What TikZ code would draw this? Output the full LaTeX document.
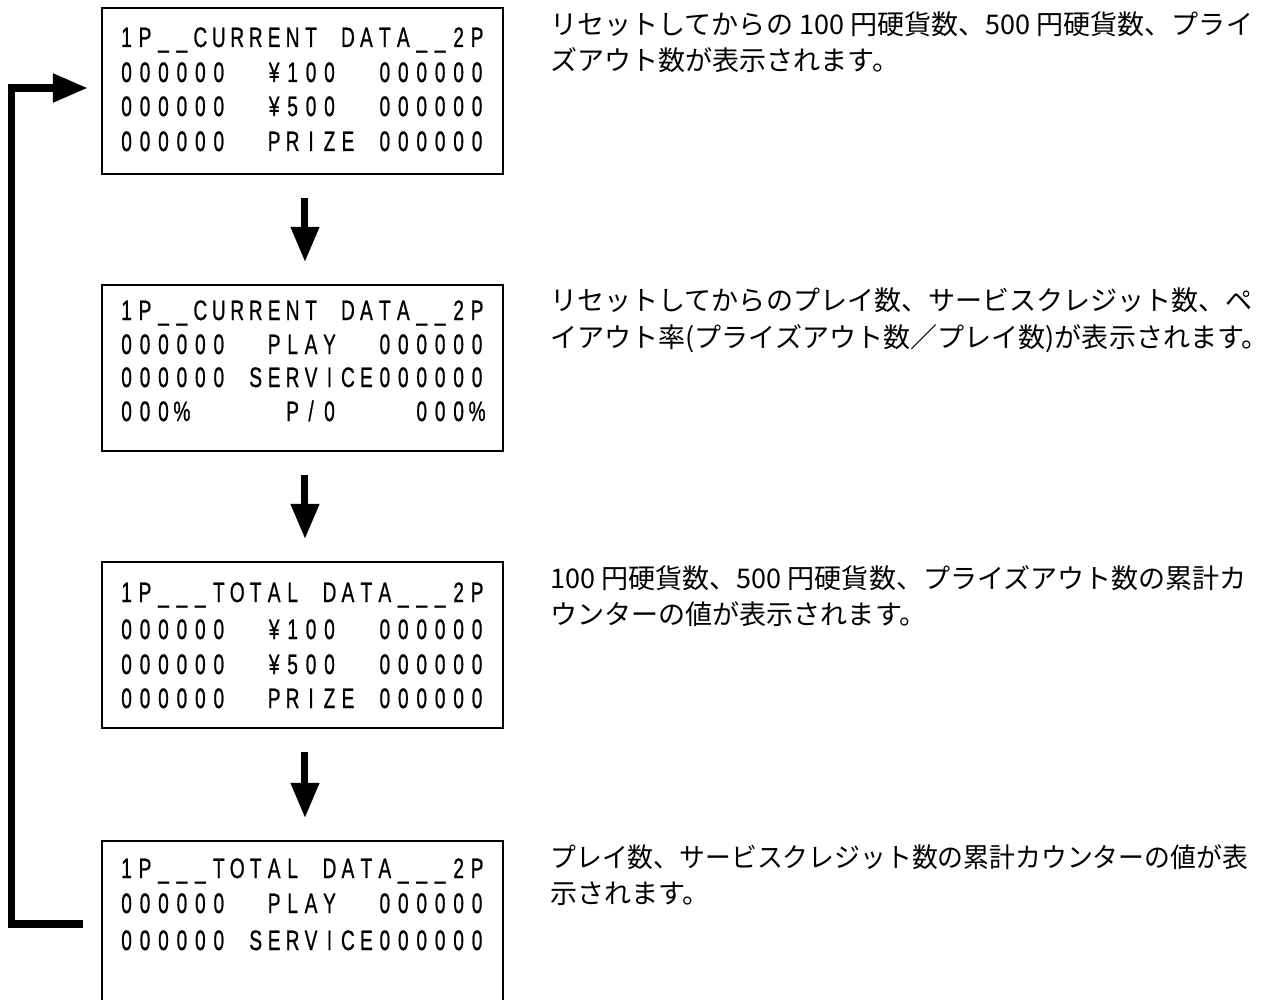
\documentclass[tikz,border=0pt]{standalone}
\usepackage{fontspec}
\usepackage{graphicx}
\usetikzlibrary{arrows.meta}
\setmainfont{Liberation Sans}
\newfontfamily\jpfont{Noto Sans CJK JP}
\newfontfamily\lcdfont[FakeBold=1]{Liberation Sans}
\ExplSyntaxOn
\NewDocumentCommand\lcdrow{m}{\tl_map_inline:nn{#1}{\makebox[10.5pt][c]{\scalebox{0.68}[1]{##1}}}}
\ExplSyntaxOff
\begin{document}
\begin{tikzpicture}[x=0.02cm,y=-0.02cm,
  lcdbox/.style={draw,line width=1.2pt,anchor=north west,inner sep=0pt,
    minimum width=228.2pt,minimum height=94.5pt},
  lcd/.style={anchor=base west,inner sep=0pt,font=\lcdfont\fontsize{16}{18}\selectfont},
  desc/.style={anchor=base west,inner sep=0pt,font=\jpfont\fontsize{15.4}{18}\selectfont},
  dnarrow/.style={line width=4pt,-{Triangle[width=15.4pt,length=20pt]},
    shorten <=13pt,shorten >=12.5pt},
  looparrow/.style={line width=4.5pt,line join=miter,-{Triangle[width=15.4pt,length=20pt]}}]
\useasboundingbox[fill=white] (0,0) rectangle (1271,1000);

% boxes
\node[lcdbox] (b1) at (101,7) {};
\node[lcdbox] (b2) at (101,284) {};
\node[lcdbox] (b3) at (101,561) {};
\node[lcdbox,minimum height=120pt] (b4) at (101,840) {};

% box 1
\node[lcd] (r11) at (117,47) {\lcdrow{1P\_\_CURRENT~DATA\_\_2P}};
\node[lcd] (r12) at (117,82) {\lcdrow{000000~~¥100~~000000}};
\node[lcd] (r13) at (117,116) {\lcdrow{000000~~¥500~~000000}};
\node[lcd] (r14) at (117,151) {\lcdrow{000000~~PRIZE~000000}};
% box 2
\node[lcd] (r21) at (117,320) {\lcdrow{1P\_\_CURRENT~DATA\_\_2P}};
\node[lcd] (r22) at (117,354) {\lcdrow{000000~~PLAY~~000000}};
\node[lcd] (r23) at (117,387) {\lcdrow{000000~SERVICE000000}};
\node[lcd] (r24) at (117,421) {\lcdrow{000\%~~~~~P/0~~~~000\%}};
% box 3
\node[lcd] (r31) at (117,602) {\lcdrow{1P\_\_\_TOTAL~DATA\_\_\_2P}};
\node[lcd] (r32) at (117,639) {\lcdrow{000000~~¥100~~000000}};
\node[lcd] (r33) at (117,674) {\lcdrow{000000~~¥500~~000000}};
\node[lcd] (r34) at (117,708) {\lcdrow{000000~~PRIZE~000000}};
% box 4
\node[lcd] (r41) at (117,878) {\lcdrow{1P\_\_\_TOTAL~DATA\_\_\_2P}};
\node[lcd] (r42) at (117,913) {\lcdrow{000000~~PLAY~~000000}};
\node[lcd] (r43) at (117,950) {\lcdrow{000000~SERVICE000000}};

% descriptions
\node[desc] (t1a) at (550,35) {リセットしてからの 100 円硬貨数、500 円硬貨数、プライ};
\node[desc] (t1b) at (550,71) {ズアウト数が表示されます。};
\node[desc] (t2a) at (550,310) {リセットしてからのプレイ数、サービスクレジット数、ペ};
\node[desc] (t2b) at (550,347) {イアウト率(プライズアウト数／プレイ数)が表示されます。};
\node[desc] (t3a) at (550,588) {100 円硬貨数、500 円硬貨数、プライズアウト数の累計カ};
\node[desc] (t3b) at (550,624) {ウンターの値が表示されます。};
\node[desc] (t4a) at (550,867) {\scalebox{0.955}[1]{プレイ数、サービスクレジット数の累計カウンターの値が表}};
\node[desc] (t4b) at (550,903) {示されます。};

% down arrows
\draw[dnarrow] ([xshift=1.4pt]b1.south) -- ([xshift=1.4pt]b2.north);
\draw[dnarrow] ([xshift=1.4pt]b2.south) -- ([xshift=1.4pt]b3.north);
\draw[dnarrow] ([xshift=1.4pt]b3.south) -- ([xshift=1.4pt]b4.north);

% loop back
\coordinate (l1) at ([shift={(-18,84)}]b4.north west);
\coordinate (l2) at ([shift={(-13,81)}]b1.north west);
\coordinate (lp) at (11.5,500);
\draw[looparrow] (l1) -- (l1 -| lp) -- (l2 -| lp) -- (l2);
\end{tikzpicture}
\end{document}
